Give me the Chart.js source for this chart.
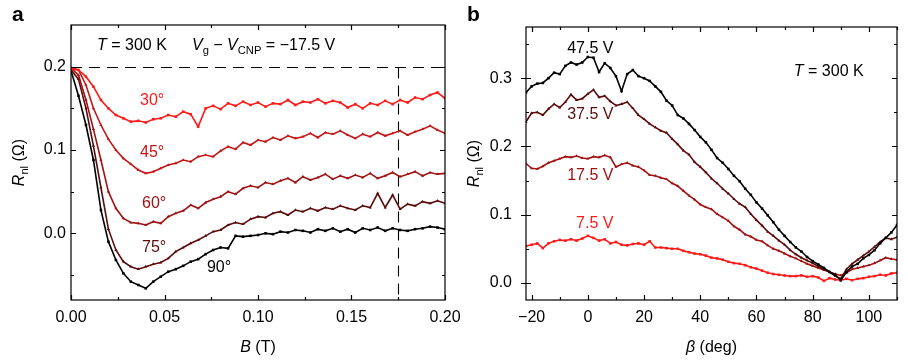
<!DOCTYPE html>
<html>
<head>
<meta charset="utf-8">
<script src="https://cdn.jsdelivr.net/npm/chart.js@4.4.0/dist/chart.umd.min.js"></script>
<style>
  body { margin: 0; background: #fff; }
  #wrap { position: relative; width: 908px; height: 360px; }
  canvas { position: absolute; top: 0; }
  #chartA { left: 0; }
  #chartB { left: 460px; }
</style>
</head>
<body>
<div id="wrap">
  <canvas id="chartA" width="460" height="360"></canvas>
  <canvas id="chartB" width="448" height="360"></canvas>
</div>
<script>
// --- Panel a: R_nl vs B at several field angles ---
const fieldB = [0.000,0.004,0.008,0.012,0.016,0.020,0.024,0.028,0.032,0.036,0.040,0.044,0.048,0.052,0.056,0.060,0.064,0.068,0.072,0.076,0.080,0.084,0.088,0.092,0.096,0.100,0.104,0.108,0.112,0.116,0.120,0.124,0.128,0.132,0.136,0.140,0.144,0.148,0.152,0.156,0.160,0.164,0.168,0.172,0.176,0.180,0.184,0.188,0.192,0.196,0.200];
const rnl30 = [0.197,0.196,0.188,0.176,0.160,0.150,0.142,0.138,0.134,0.135,0.133,0.137,0.138,0.142,0.140,0.146,0.143,0.128,0.150,0.153,0.149,0.156,0.153,0.158,0.154,0.157,0.152,0.156,0.155,0.160,0.154,0.158,0.157,0.161,0.156,0.159,0.157,0.151,0.155,0.150,0.156,0.154,0.159,0.155,0.160,0.157,0.163,0.161,0.166,0.169,0.162];
const rnl45 = [0.199,0.196,0.178,0.150,0.130,0.113,0.100,0.090,0.083,0.076,0.072,0.074,0.078,0.082,0.084,0.088,0.086,0.092,0.094,0.092,0.099,0.104,0.101,0.109,0.106,0.112,0.110,0.115,0.112,0.117,0.114,0.116,0.120,0.115,0.121,0.119,0.123,0.118,0.114,0.119,0.116,0.121,0.117,0.120,0.123,0.118,0.122,0.125,0.129,0.124,0.120];
const rnl60 = [0.198,0.190,0.160,0.125,0.088,0.050,0.030,0.018,0.013,0.012,0.010,0.014,0.012,0.020,0.024,0.027,0.034,0.030,0.037,0.041,0.044,0.050,0.047,0.054,0.057,0.055,0.061,0.059,0.063,0.066,0.061,0.068,0.064,0.067,0.071,0.065,0.069,0.066,0.070,0.067,0.072,0.066,0.069,0.073,0.068,0.071,0.074,0.069,0.073,0.071,0.072];
const rnl75 = [0.196,0.185,0.150,0.105,0.055,0.005,-0.020,-0.034,-0.040,-0.043,-0.040,-0.037,-0.035,-0.030,-0.022,-0.017,-0.012,-0.008,-0.003,0.002,0.004,0.010,0.013,0.011,0.017,0.020,0.019,0.024,0.026,0.022,0.028,0.026,0.030,0.027,0.031,0.029,0.033,0.030,0.028,0.033,0.031,0.048,0.031,0.046,0.029,0.035,0.033,0.038,0.036,0.039,0.036];
const rnl90 = [0.195,0.165,0.130,0.088,0.028,-0.010,-0.032,-0.048,-0.058,-0.062,-0.066,-0.058,-0.052,-0.046,-0.043,-0.039,-0.034,-0.031,-0.025,-0.020,-0.017,-0.018,-0.003,-0.004,-0.003,-0.002,0.000,-0.001,0.002,0.001,0.004,0.003,0.001,0.005,0.003,0.006,0.002,0.005,0.001,0.006,0.004,0.007,0.003,0.006,0.004,0.003,0.005,0.006,0.008,0.007,0.005];
const angleLabels = ['30°', '45°', '60°', '75°', '90°'];

const bTicks = [0, 0.05, 0.1, 0.15, 0.2];
const bMinor = [0.025, 0.075, 0.125, 0.175];
const rTicksA = [0, 0.1, 0.2];
const rMinorA = [-0.05, 0.05, 0.15];
const refLevel = 0.2;     // dashed horizontal line
const refField = 0.175;   // dashed vertical line

// --- Panel b: R_nl vs beta at several gate voltages ---
const beta = [-22,-20,-18,-16,-14,-12,-10,-8,-6,-4,-2,0,2,4,6,8,10,12,14,16,18,20,22,24,26,28,30,32,34,36,38,40,42,44,46,48,50,52,54,56,58,60,62,64,66,68,70,72,74,76,78,80,82,84,86,88,90,92,94,96,98,100,102,104,106,108,110];
const rnl47v = [0.279,0.288,0.292,0.293,0.300,0.308,0.306,0.318,0.323,0.320,0.323,0.331,0.330,0.309,0.322,0.315,0.303,0.281,0.306,0.312,0.303,0.300,0.296,0.288,0.280,0.267,0.260,0.246,0.241,0.233,0.224,0.214,0.206,0.195,0.183,0.176,0.167,0.157,0.149,0.138,0.129,0.118,0.109,0.099,0.089,0.078,0.069,0.060,0.052,0.046,0.038,0.032,0.027,0.022,0.016,0.012,0.004,0.016,0.024,0.028,0.036,0.041,0.048,0.058,0.066,0.074,0.085];
const rnl37v = [0.236,0.249,0.250,0.246,0.255,0.262,0.257,0.265,0.276,0.268,0.270,0.277,0.283,0.272,0.274,0.266,0.260,0.262,0.265,0.256,0.246,0.240,0.233,0.228,0.223,0.220,0.211,0.203,0.194,0.188,0.177,0.170,0.162,0.153,0.146,0.138,0.131,0.123,0.116,0.111,0.101,0.092,0.084,0.075,0.069,0.062,0.056,0.048,0.042,0.037,0.033,0.029,0.024,0.020,0.016,0.010,0.006,0.020,0.028,0.034,0.040,0.046,0.053,0.060,0.066,0.064,0.067];
const rnl17v = [0.175,0.168,0.167,0.171,0.176,0.179,0.182,0.185,0.184,0.186,0.183,0.182,0.185,0.184,0.187,0.184,0.170,0.174,0.176,0.172,0.170,0.165,0.158,0.157,0.154,0.152,0.146,0.142,0.135,0.128,0.122,0.115,0.111,0.108,0.101,0.096,0.091,0.083,0.078,0.071,0.068,0.063,0.061,0.055,0.050,0.047,0.043,0.039,0.036,0.032,0.028,0.025,0.022,0.019,0.016,0.013,0.011,0.015,0.020,0.022,0.024,0.026,0.029,0.033,0.037,0.035,0.034];
const rnl7v = [0.054,0.056,0.058,0.051,0.058,0.061,0.063,0.062,0.064,0.062,0.065,0.069,0.066,0.062,0.064,0.058,0.060,0.056,0.055,0.057,0.058,0.056,0.061,0.052,0.052,0.051,0.050,0.050,0.047,0.045,0.043,0.042,0.040,0.037,0.036,0.034,0.031,0.029,0.028,0.026,0.023,0.021,0.018,0.015,0.013,0.012,0.011,0.010,0.010,0.011,0.009,0.010,0.008,0.003,0.007,0.005,0.004,0.006,0.004,0.006,0.007,0.009,0.010,0.012,0.011,0.014,0.015];
const gateLabels = ['47.5 V', '37.5 V', '17.5 V', '7.5 V'];

const betaTicks = [-20, 0, 20, 40, 60, 80, 100];
const betaMinor = [-10, 10, 30, 50, 70, 90, 110];
const rTicksB = [0, 0.1, 0.2, 0.3];
const rMinorB = [0.05, 0.15, 0.25, 0.35];

const FONT = '"Liberation Sans", Arial, Helvetica, sans-serif';
Chart.defaults.font.family = FONT;
Chart.defaults.color = '#000';

const C_BLACK = '#000000';
const C_DARK = '#5c0b0b';
const C_MID = '#a01212';
const C_45 = '#c41616';
const C_RED = '#ff1a1a';

// draw text made of pieces: [text, style] with style '' | 'i' (italic) | 's' (subscript)
const drawRich = (ctx, parts, x, y, align, size) => {
  const fontFor = p => `${p[1] === 'i' ? 'italic ' : ''}${p[1] === 's' ? size * 0.7 : size}px ${FONT}`;
  let w = 0;
  parts.forEach(p => { ctx.font = fontFor(p); w += ctx.measureText(p[0]).width; });
  let cx = align === 'center' ? x - w / 2 : align === 'right' ? x - w : x;
  ctx.textAlign = 'left';
  ctx.textBaseline = 'middle';
  parts.forEach(p => {
    ctx.font = fontFor(p);
    ctx.fillText(p[0], cx, p[1] === 's' ? y + size * 0.3 : y);
    cx += ctx.measureText(p[0]).width;
  });
};

const toPoints = (xs, ys) => xs.map((v, i) => ({ x: v, y: ys[i] }));

const series = (label, xs, ys, color, style) => ({
  label,
  data: toPoints(xs, ys),
  borderColor: color,
  backgroundColor: color,
  borderWidth: 1.6,
  pointRadius: 1.8,
  pointStyle: style,
  pointBorderWidth: 0,
  pointBackgroundColor: color,
  tension: 0
});

// --- frame, inward ticks, reference lines and text ---
const framePlugin = {
  id: 'frame',
  beforeDatasetsDraw(chart, args, opts) {
    const { ctx, chartArea: a, scales: { x, y } } = chart;
    if (opts.refLevel === undefined) return;
    ctx.save();
    ctx.strokeStyle = '#000';
    ctx.lineWidth = 1.1;
    ctx.setLineDash([11, 7]);
    const py = Math.round(y.getPixelForValue(opts.refLevel)) + 0.5;
    ctx.beginPath();
    ctx.moveTo(a.left, py); ctx.lineTo(a.right, py);
    const px = Math.round(x.getPixelForValue(opts.refField)) + 0.5;
    ctx.moveTo(px, py); ctx.lineTo(px, a.bottom);
    ctx.stroke();
    ctx.restore();
  },
  afterDraw(chart, args, opts) {
    const { ctx, chartArea: a, scales: { x, y } } = chart;
    ctx.save();
    ctx.strokeStyle = '#000';
    ctx.lineWidth = 1.2;
    ctx.strokeRect(a.left, a.top, a.right - a.left, a.bottom - a.top);

    ctx.beginPath();
    const xTick = (vals, len) => vals.forEach(v => {
      const px = Math.round(x.getPixelForValue(v)) + 0.5;
      ctx.moveTo(px, a.bottom); ctx.lineTo(px, a.bottom - len);
      ctx.moveTo(px, a.top); ctx.lineTo(px, a.top + len);
    });
    const yTick = (vals, len, out) => vals.forEach(v => {
      const py = Math.round(y.getPixelForValue(v)) + 0.5;
      ctx.moveTo(a.left - out, py); ctx.lineTo(a.left + len, py);
      ctx.moveTo(a.right, py); ctx.lineTo(a.right - len, py);
    });
    xTick(opts.xMajor, 5);
    xTick(opts.xMinor, 3);
    yTick(opts.yMajor, 5, opts.leftOut || 0);
    yTick(opts.yMinor, 3, 0);
    ctx.stroke();

    ctx.fillStyle = '#000';
    // panel letter
    ctx.font = `bold 21px ${FONT}`;
    ctx.textAlign = 'left';
    ctx.textBaseline = 'alphabetic';
    ctx.fillText(opts.letter, opts.letterX, 21);

    // axis titles
    const midX = (a.left + a.right) / 2;
    drawRich(ctx, opts.xTitle, midX, 348, 'center', 16);
    ctx.save();
    ctx.translate(opts.yTitleX, (a.top + a.bottom) / 2);
    ctx.rotate(-Math.PI / 2);
    drawRich(ctx, [['R', 'i'], ['nl', 's'], [' (Ω)', '']], 0, 0, 'center', 16);
    ctx.restore();

    // in-plot text
    opts.texts.forEach(t => {
      ctx.fillStyle = t.color;
      drawRich(ctx, t.parts, x.getPixelForValue(t.x), y.getPixelForValue(t.y), t.align, 16);
    });
    ctx.restore();
  }
};

const axisY = (min, max, ticks, fmt, pad, width) => ({
  type: 'linear',
  min, max,
  grid: { display: false, drawTicks: false },
  border: { display: false },
  afterBuildTicks: s => { s.ticks = ticks.map(v => ({ value: v })); },
  afterFit: s => { s.width = width; s.paddingTop = 0; s.paddingBottom = 0; },
  ticks: { font: { size: 16 }, padding: pad, callback: fmt }
});

const axisX = (min, max, ticks, fmt) => ({
  type: 'linear',
  min, max,
  grid: { display: false, drawTicks: false },
  border: { display: false },
  afterBuildTicks: s => { s.ticks = ticks.map(v => ({ value: v })); },
  afterFit: s => { s.height = 60; s.paddingLeft = 0; s.paddingRight = 0; },
  ticks: { font: { size: 16 }, padding: 8, maxRotation: 0, callback: fmt }
});

const minusFmt = v => (v < 0 ? '\u2212' + Math.abs(v) : String(v));

// --- Panel a ---
new Chart(document.getElementById('chartA'), {
  type: 'line',
  data: {
    datasets: [
      series(angleLabels[0], fieldB, rnl30, C_RED, 'rect'),
      series(angleLabels[1], fieldB, rnl45, C_45, 'triangle'),
      series(angleLabels[2], fieldB, rnl60, C_MID, 'triangle'),
      series(angleLabels[3], fieldB, rnl75, C_DARK, 'triangle'),
      series(angleLabels[4], fieldB, rnl90, C_BLACK, 'rect')
    ]
  },
  options: {
    responsive: false,
    animation: false,
    devicePixelRatio: 1,
    layout: { padding: { left: 0, right: 15, top: 25, bottom: 0 } },
    scales: {
      x: axisX(0, 0.2, bTicks, v => v.toFixed(2)),
      y: axisY(-0.08, 0.25, rTicksA, v => v.toFixed(1), 5, 71)
    },
    plugins: {
      legend: { display: false },
      tooltip: { enabled: false },
      frame: {
        xMajor: bTicks, xMinor: bMinor, yMajor: rTicksA, yMinor: rMinorA,
        refLevel, refField,
        letter: 'a', letterX: 12, yTitleX: 20,
        xTitle: [['B', 'i'], [' (T)', '']],
        texts: [
          { x: 0.0139, y: 0.225, align: 'left', color: '#000', parts: [['T', 'i'], [' = 300 K', '']] },
          { x: 0.0647, y: 0.225, align: 'left', color: '#000',
            parts: [['V', 'i'], ['g', 's'], [' \u2212 ', ''], ['V', 'i'], ['CNP', 's'], [' = \u221217.5 V', '']] },
          { x: 0.0369, y: 0.159, align: 'left', color: C_RED, parts: [[angleLabels[0], '']] },
          { x: 0.0369, y: 0.097, align: 'left', color: C_45, parts: [[angleLabels[1], '']] },
          { x: 0.0380, y: 0.036, align: 'left', color: C_MID, parts: [[angleLabels[2], '']] },
          { x: 0.0380, y: -0.017, align: 'left', color: C_DARK, parts: [[angleLabels[3], '']] },
          { x: 0.0727, y: -0.041, align: 'left', color: '#000', parts: [[angleLabels[4], '']] }
        ]
      }
    }
  },
  plugins: [framePlugin]
});

// --- Panel b ---
new Chart(document.getElementById('chartB'), {
  type: 'line',
  data: {
    datasets: [
      series(gateLabels[0], beta, rnl47v, C_BLACK, 'rect'),
      series(gateLabels[1], beta, rnl37v, C_DARK, 'triangle'),
      series(gateLabels[2], beta, rnl17v, C_MID, 'triangle'),
      series(gateLabels[3], beta, rnl7v, C_RED, 'rect')
    ]
  },
  options: {
    responsive: false,
    animation: false,
    devicePixelRatio: 1,
    layout: { padding: { left: 0, right: 11, top: 27, bottom: 0 } },
    scales: {
      x: axisX(-22, 110, betaTicks, minusFmt),
      y: axisY(-0.025, 0.375, rTicksB, v => v.toFixed(1), 14, 66)
    },
    plugins: {
      legend: { display: false },
      tooltip: { enabled: false },
      frame: {
        xMajor: betaTicks, xMinor: betaMinor, yMajor: rTicksB, yMinor: rMinorB,
        leftOut: 5,
        letter: 'b', letterX: 7, yTitleX: 15,
        xTitle: [['\u03b2', 'i'], [' (deg)', '']],
        texts: [
          { x: 9.1, y: 0.344, align: 'right', color: '#000', parts: [[gateLabels[0], '']] },
          { x: 9.1, y: 0.246, align: 'right', color: C_DARK, parts: [[gateLabels[1], '']] },
          { x: 9.1, y: 0.157, align: 'right', color: C_MID, parts: [[gateLabels[2], '']] },
          { x: 9.1, y: 0.087, align: 'right', color: C_RED, parts: [[gateLabels[3], '']] },
          { x: 73.3, y: 0.310, align: 'left', color: '#000', parts: [['T', 'i'], [' = 300 K', '']] }
        ]
      }
    }
  },
  plugins: [framePlugin]
});
</script>
</body>
</html>
